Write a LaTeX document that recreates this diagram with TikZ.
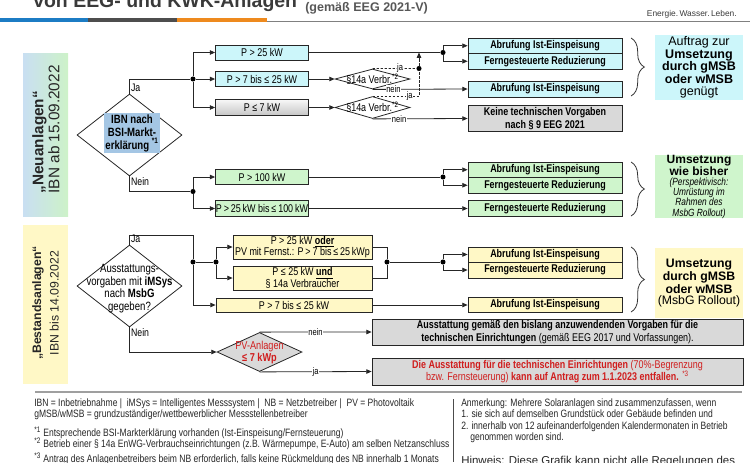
\documentclass[tikz,border=0pt]{standalone}
\usepackage{fontspec}
\setmainfont{Liberation Sans}
\newfontfamily\cnd[FakeStretch=0.8]{Liberation Sans}
\usetikzlibrary{arrows.meta,shapes.geometric,decorations.pathreplacing}

\definecolor{cyanbox}{HTML}{CCF6FA}
\definecolor{greenbox}{HTML}{CFF5CC}
\definecolor{yelbox}{HTML}{FFF8C6}
\definecolor{graybox}{HTML}{D9D9D9}
\definecolor{hlblue}{HTML}{A4C6E4}
\definecolor{seiteblau}{HTML}{C9DFF2}
\definecolor{seitegruen}{HTML}{CDF2C8}
\definecolor{rot}{HTML}{D01E1E}
\definecolor{titelgrau}{HTML}{3A3A3A}
\definecolor{balkenblau}{HTML}{1C7CC4}
\definecolor{balkengrau}{HTML}{4D4D4D}
\definecolor{balkenorange}{HTML}{EE8A1E}

\newcommand\boxfont{\cnd\fontsize{8.4}{9.3}\selectfont}
\newcommand\rautefont{\cnd\fontsize{9}{9.4}\selectfont}
\newcommand\jnfont{\cnd\fontsize{7.1}{7.5}\selectfont}
\newcommand\fussfont{\cnd\fontsize{8}{9}\selectfont}
\newcommand\kursivfont{\cnd\itshape\fontsize{7.8}{6.6}\selectfont}

\tikzset{
  linie/.style={draw=black!85, line width=0.6pt},
  pfeil/.style={linie, -{Triangle[length=4pt,width=3.4pt]}},
  strich/.style={linie, dash pattern=on 1.8pt off 1.2pt},
  punkt/.style={circle, fill=black, inner sep=0pt, minimum size=3.8pt},
  kasten/.style={draw=black!85, line width=0.6pt, inner sep=0pt, align=center,
    font=\boxfont, minimum width=93*0.75pt, minimum height=15*0.75pt},
  breit/.style={kasten, font=\boxfont\bfseries, minimum width=154*0.75pt},
  raute/.style={diamond, draw=black!85, line width=0.6pt, inner sep=0pt},
  jn/.style={font=\jnfont, fill=white, inner sep=0.4pt},
  jaNein/.style={font=\cnd\fontsize{8.2}{9}\selectfont, inner sep=1pt},
  klammer/.style={draw=black!80, line width=0.6pt, decorate,
    decoration={brace, amplitude=10pt}},
  zielbox/.style={inner sep=0pt, align=center, minimum width=88*0.75pt,
    font=\fontsize{9.4}{9.3}\selectfont},
  seite/.style={inner sep=0pt, minimum width=45*0.75pt},
  seitetext/.style={rotate=90, text=black!85},
  fuss/.style={anchor=base west, inner sep=0pt, font=\fussfont, text=black!85}
}

\begin{document}
\begin{tikzpicture}[x=0.75pt,y=-0.75pt]
  \useasboundingbox (0,0) rectangle (750,462);
  \clip (0,0) rectangle (750,462);

  % Titel
  \node[anchor=base west, inner sep=0pt, text=titelgrau,
    font=\bfseries\fontsize{14.6}{16}\selectfont] (titel) at (33,7.5) {von EEG- und KWK-Anlagen};
  \node[anchor=base west, inner sep=0pt, text=titelgrau!85,
    font=\bfseries\fontsize{9.4}{11}\selectfont] (untertitel) at (305,11) {(gemäß EEG 2021-V)};
  \node[anchor=base east, inner sep=0pt, text=titelgrau,
    font=\fontsize{6.3}{7}\selectfont] (slogan) at (737,16) {Energie.\,Wasser.\,Leben.};

  % Farbbalken
  \fill[balkenblau] (0,17.5) rectangle (88,21.5);
  \fill[balkengrau] (88,17.5) rectangle (177,21.5);
  \fill[balkenorange] (177,17.5) rectangle (267,21.5);
  \draw[gray, line width=0.5pt] (267,21) -- (750,21);

  % Seitenbeschriftung
  \node[seite, left color=seiteblau, right color=seitegruen, minimum height=163*0.75pt] (neubox) at (45.5,134.5) {};
  \node[seitetext, align=left, anchor=west, font=\fontsize{11.5}{12}\selectfont] (neutext) at (46,198)
    {\textbf{„Neuanlagen“}\\IBN ab 15.09.2022};
  \node[seite, fill=yelbox, minimum height=159*0.75pt] (bestbox) at (45.5,304.5) {};
  \node[seitetext, align=center, font=\fontsize{9.2}{13}\selectfont] (besttext) at (45.5,303)
    {\textbf{„Bestandsanlagen“}\\IBN bis 14.09.2022};

  % Neuanlagen: Entscheidung
  \node[raute, minimum width=105*0.75pt, minimum height=82*0.75pt] (ibn) at (129.5,135) {};
  \node[fill=hlblue, inner sep=1pt, align=center, font=\cnd\bfseries\fontsize{9}{9.75}\selectfont] (ibntext) at (132,133)
    {IBN nach\\BSI-Markt-\\erklärung \textsuperscript{*1}};

  % Ja-Zweig
  \node[punkt] (pja1) at (193,79) {};
  \draw[linie] (ibn.north) |- (pja1);
  \node[jaNein, anchor=south west] (ja1) at (ibn.north) {Ja};
  \node[kasten, fill=cyanbox] (p25) at (262,52.5) {P > 25 kW};
  \node[kasten, fill=cyanbox] (p7b25) at (262,79) {P > 7 bis ≤ 25 kW};
  \node[kasten, top color=gray!6, bottom color=gray!45, minimum height=16*0.75pt] (p7) at (262,107.5) {P ≤ 7 kW};
  \draw[pfeil] (pja1) |- (p25.west);
  \draw[pfeil] (pja1) -- (p7b25.west);
  \draw[pfeil] (pja1) |- (p7.west);

  % Ergebnisse oben
  \node[breit, fill=cyanbox, minimum height=15.5*0.75pt] (abr1) at (545,45.75) {Abrufung Ist-Einspeisung};
  \node[breit, fill=cyanbox, minimum height=15.5*0.75pt] (fer1) at (545,61.25) {Ferngesteuerte Reduzierung};
  \node[breit, fill=cyanbox, minimum height=16*0.75pt] (abr2) at (545,89) {Abrufung Ist-Einspeisung};
  \node[breit, fill=graybox, minimum height=26*0.75pt] (keine) at (545,118.5)
    {Keine technischen Vorgaben\\nach § 9 EEG 2021};
  \node[punkt] (v1) at (443,52.5) {};
  \draw[linie] (p25) -- (v1);
  \draw[pfeil] (v1) |- (abr1.west);
  \draw[pfeil] (v1) |- (fer1.west);

  % §14a
  \node[raute, minimum width=75*0.75pt, minimum height=20*0.75pt] (vb1) at (372.5,79) {};
  \node[font=\boxfont, inner sep=0pt] (vb1t) at (372.5,79) {§14a Verbr.\textsuperscript{*2}};
  \node[raute, minimum width=75*0.75pt, minimum height=22*0.75pt] (vb2) at (372.5,107.5) {};
  \node[font=\boxfont, inner sep=0pt] (vb2t) at (372.5,107.5) {§14a Verbr.\textsuperscript{*2}};
  \draw[pfeil] (p7b25) -- (vb1);
  \draw[pfeil] (p7) -- (vb2);
  \node[punkt] (vja) at (419,68.5) {};
  \draw[strich] (vb1.north) -- node[jn, pos=0.63] (ja2) {ja} (vja);
  \draw[strich] (vb2.north) -| node[jn, pos=0.4] (ja3) {ja} (vja);
  \draw[strich, pfeil] (vja) -- (vja |- v1);
  \draw[pfeil] (vb1.south) -- node[jn, pos=0.22] (nein2) {nein} (abr2.west);
  \draw[pfeil] (vb2.south) -- node[jn, pos=0.28] (nein3) {nein} (keine.west);

  \draw[klammer] (631,38) -- (631,96);
  \node[zielbox, fill=cyanbox, minimum height=65*0.75pt] (auftrag) at (699,67.5)
    {Auftrag zur\\\textbf{Umsetzung}\\\textbf{durch gMSB}\\\textbf{oder wMSB}\\genügt};

  % Nein-Zweig
  \node[punkt] (pnein1) at (193,191.5) {};
  \draw[linie] (ibn.south) |- (pnein1);
  \node[jaNein, anchor=north west] (nein1) at (ibn.south) {Nein};
  \node[kasten, fill=greenbox] (p100) at (262,177) {P > 100 kW};
  \node[kasten, fill=greenbox, minimum height=16*0.75pt] (p25100) at (262,208.5) {P\,>\,25\,kW bis\,≤\,100\,kW};
  \draw[pfeil] (pnein1) |- (p100.west);
  \draw[pfeil] (pnein1) |- (p25100.west);
  \node[breit, fill=greenbox, minimum height=15.5*0.75pt] (abr3) at (545,169.75) {Abrufung Ist-Einspeisung};
  \node[breit, fill=greenbox, minimum height=15.5*0.75pt] (fer3) at (545,185.25) {Ferngesteuerte Reduzierung};
  \node[breit, fill=greenbox, minimum height=15.5*0.75pt] (fer4) at (545,208.5) {Ferngesteuerte Reduzierung};
  \node[punkt] (v3) at (443,177) {};
  \draw[linie] (p100) -- (v3);
  \draw[pfeil] (v3) |- (abr3.west);
  \draw[pfeil] (v3) |- (fer3.west);
  \draw[pfeil] (p25100) -- (fer4);

  \draw[klammer] (631,162) -- (631,216);
  \node[zielbox, fill=greenbox, minimum height=63*0.75pt, font=\fontsize{9}{7.6}\selectfont] (bisher) at (699,186.5)
    {\textbf{Umsetzung}\\\textbf{wie bisher}\\
     \kursivfont (Perspektivisch:\\\kursivfont Umrüstung im\\\kursivfont Rahmen des\\\kursivfont MsbG Rollout)};

  % Bestandsanlagen: Entscheidung
  \node[raute, minimum width=105*0.75pt, minimum height=82*0.75pt] (ausst) at (129.5,286) {};
  \node[inner sep=0pt, align=center, font=\rautefont] (ausstt) at (129.5,288.5)
    {Ausstattungs-\\vorgaben mit \textbf{iMSys}\\nach \textbf{MsbG}\\gegeben?};
  \node[punkt] (pja2) at (193,262) {};
  \node[punkt] (pja3) at (216,262) {};
  \coordinate (ecke2) at (193,235);
  \node[kasten, fill=yelbox, minimum width=139*0.75pt, minimum height=24*0.75pt, font=\cnd\fontsize{8.4}{8.4}\selectfont] (oder) at (302.5,247)
    {P > 25 kW \underline{\textbf{oder}}\\PV mit Fernst.: P\,>\,7 bis\,≤\,25\,kWp};
  \node[kasten, fill=yelbox, minimum width=139*0.75pt, minimum height=24*0.75pt, font=\cnd\fontsize{8.4}{8.4}\selectfont] (und) at (302.5,278)
    {P ≤ 25 kW \underline{\textbf{und}}\\§ 14a Verbraucher};
  \node[kasten, fill=yelbox, minimum width=156*0.75pt, minimum height=14*0.75pt] (p725b) at (294,305) {P > 7 bis ≤ 25 kW};
  \draw[linie] (ausst.north) |- (ecke2) -- (pja2);
  \node[jaNein, anchor=south west] (ja4) at (ausst.north) {Ja};
  \draw[pfeil] (pja2) |- (p725b.west);
  \draw[linie] (pja2) -- (pja3);
  \draw[pfeil] (pja3) |- (oder.west);
  \draw[pfeil] (pja3) |- (und.west);

  % Ergebnisse unten
  \node[punkt] (v5) at (387,262) {};
  \node[punkt] (v6) at (443,262) {};
  \draw[linie] (oder.east) -| (v5);
  \draw[linie] (und.east) -| (v5);
  \draw[linie] (v5) -- (v6);
  \node[breit, fill=yelbox, minimum height=15*0.75pt] (abr5) at (545,254.5) {Abrufung Ist-Einspeisung};
  \node[breit, fill=yelbox, minimum height=16*0.75pt] (fer5) at (545,270) {Ferngesteuerte Reduzierung};
  \node[breit, fill=yelbox, minimum height=15*0.75pt] (abr6) at (545,305) {Abrufung Ist-Einspeisung};
  \draw[pfeil] (v6) |- (abr5.west);
  \draw[pfeil] (v6) |- (fer5.west);
  \draw[pfeil] (p725b) -- (abr6);

  \draw[klammer] (631,247) -- (631,312);
  \node[zielbox, fill=yelbox, minimum height=70*0.75pt, font=\fontsize{9.2}{8.2}\selectfont] (msbg) at (699,283)
    {\textbf{Umsetzung}\\\textbf{durch gMSB}\\\textbf{oder wMSB}\\(MsbG Rollout)};

  % PV bis 7 kWp
  \node[raute, fill=graybox, minimum width=85*0.75pt, minimum height=39*0.75pt] (pv) at (259.5,352) {};
  \node[inner sep=0pt, align=center, text=rot, font=\cnd\fontsize{8.6}{9}\selectfont] (pvt) at (259.5,353)
    {PV-Anlagen\\\textbf{≤ 7 kWp}};
  \draw[pfeil] (ausst.south) |- (pv.west);
  \node[jaNein, anchor=north west] (nein4) at (ausst.south) {Nein};
  \node[kasten, fill=graybox, minimum width=371*0.75pt, minimum height=26*0.75pt, font=\boxfont\bfseries] (aus) at (557.5,332)
    {Ausstattung gemäß den bislang anzuwendenden Vorgaben für die\\technischen Einrichtungen \mdseries(gemäß EEG 2017 und Vorfassungen).};
  \node[kasten, fill=graybox, minimum width=371*0.75pt, minimum height=27*0.75pt, text=rot] (entfall) at (557.5,371.5)
    {\textbf{Die Ausstattung für die technischen Einrichtungen} (70\%-Begrenzung\\bzw. Fernsteuerung) \textbf{kann auf Antrag zum 1.1.2023 entfallen.} \textsuperscript{*3}};
  \draw[pfeil] (pv.north) -- node[jn] (nein5) {nein} (aus.west);
  \draw[pfeil] (pv.south) -- node[jn] (ja5) {ja} (entfall.west);

  % Fusszeile
  \draw[gray!75, line width=1.2pt] (35,392) -- (742,392);
  \draw[black!70, line width=0.5pt] (453,399) -- (453,462);
  \node[fuss] (f1) at (34,406) {IBN = Inbetriebnahme |\ \ iMSys = Intelligentes Messsystem |\ \ NB = Netzbetreiber |\ \ PV = Photovoltaik};
  \node[fuss] (f2) at (34,417) {gMSB/wMSB = grundzuständiger/wettbewerblicher Messstellenbetreiber};
  \node[fuss] (f3) at (34,436) {\textsuperscript{*1} Entsprechende BSI-Markterklärung vorhanden (Ist-Einspeisung/Fernsteuerung)};
  \node[fuss] (f4) at (34,447) {\textsuperscript{*2} Betrieb einer § 14a EnWG-Verbrauchseinrichtungen (z.B. Wärmepumpe, E-Auto) am selben Netzanschluss};
  \node[fuss] (f5) at (34,462) {\textsuperscript{*3} Antrag des Anlagenbetreibers beim NB erforderlich, falls keine Rückmeldung des NB innerhalb 1 Monats};
  \node[fuss] (a1) at (461,406.5) {Anmerkung: Mehrere Solaranlagen sind zusammenzufassen, wenn};
  \node[fuss] (a2) at (461,417.5) {1. sie sich auf demselben Grundstück oder Gebäude befinden und};
  \node[fuss] (a3) at (461,429) {2. innerhalb von 12 aufeinanderfolgenden Kalendermonaten in Betrieb};
  \node[fuss] (a4) at (470,440) {genommen worden sind.};
  \node[fuss, font=\fontsize{8.6}{10}\selectfont] (hinweis) at (461,464.5) {Hinweis: Diese Grafik kann nicht alle Regelungen des};
\end{tikzpicture}
\end{document}
